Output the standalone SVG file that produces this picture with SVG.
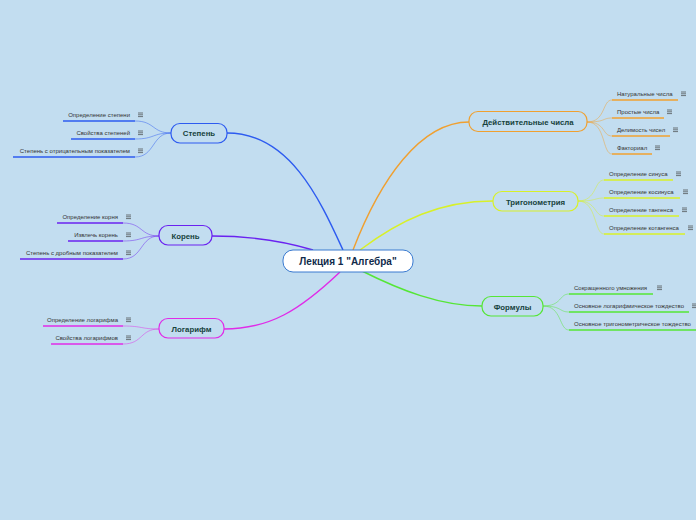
<svg xmlns="http://www.w3.org/2000/svg" width="696" height="520" viewBox="0 0 696 520">
<style>
.bg{fill:#c2ddf0}
.node{fill:#c2ddf0;stroke-width:1.2}
.nt{font-family:"Liberation Sans",Arial,sans-serif;font-weight:bold;font-size:7.8px;fill:#16423c;text-anchor:middle}
.lt{font-family:"Liberation Sans",Arial,sans-serif;font-size:6px;fill:#333}
.l{text-anchor:end}
.ul{stroke-width:1.6;fill:none}
.c{fill:none;stroke-width:0.8;stroke-opacity:0.6}
.m{fill:none;stroke-width:1.4}
.ic{stroke:#444;stroke-width:0.7}
</style>
<defs>
<g id="ham"><line class="ic" x1="0" y1="0" x2="5" y2="0"/><line class="ic" x1="0" y1="1.8" x2="5" y2="1.8"/><line class="ic" x1="0" y1="3.6" x2="5" y2="3.6"/></g>
</defs>
<rect class="bg" x="0" y="0" width="696" height="520"/>
<g id="connectors">
<path class="m" stroke="#2d5bf0" d="M343,250 C320,200 290,133 227,133"/>
<path class="m" stroke="#6a22f0" d="M313,250 C280,240 250,236 212,236"/>
<path class="m" stroke="#e02be8" d="M340,272 C300,310 270,329 224,329"/>
<path class="m" stroke="#f0a030" d="M353,250 C380,180 420,122 469,122"/>
<path class="m" stroke="#d8f028" d="M360,250 C400,220 440,201 493,201"/>
<path class="m" stroke="#55e636" d="M362,271 C400,290 440,306 482,306"/>
<path class="c" stroke="#2d5bf0" d="M171,133 C152,133 155,121 135,121 M171,133 C152,133 155,139 135,139 M171,133 C152,133 155,157 135,157"/>
<path class="c" stroke="#6a22f0" d="M159,236 C140,236 143,223 123,223 M159,236 C140,236 143,241 123,241 M159,236 C140,236 143,259 123,259"/>
<path class="c" stroke="#e02be8" d="M159,329 C140,329 143,326 123,326 M159,329 C140,329 143,344 123,344"/>
<path class="c" stroke="#f0a030" d="M587,122 C606,122 602,100 612,100 M587,122 C606,122 602,118 612,118 M587,122 C606,122 602,136 612,136 M587,122 C606,122 602,154 612,154"/>
<path class="c" stroke="#d8f028" d="M578,201 C597,201 594,180 604,180 M578,201 C597,201 594,198 604,198 M578,201 C597,201 594,216 604,216 M578,201 C597,201 594,234 604,234"/>
<path class="c" stroke="#55e636" d="M543,306 C562,306 559,294 569,294 M543,306 C562,306 559,312 569,312 M543,306 C562,306 559,330 569,330"/>
</g>
<g id="center">
<rect x="283" y="250" width="130" height="22" rx="10" fill="#fff" stroke="#3a7ad0" stroke-width="1"/>
<text class="nt" x="348" y="264.5" style="font-size:10px;fill:#0f2a4a">Лекция 1 "Алгебра"</text>
</g>
<g id="stepen">
<rect class="node" x="171" y="123.5" width="56" height="19.5" rx="9" stroke="#2d5bf0"/>
<text class="nt" x="199" y="136">Степень</text>
</g>
<g id="koren">
<rect class="node" x="159" y="225.5" width="53" height="19.5" rx="9" stroke="#6a22f0"/>
<text class="nt" x="185.5" y="238.5">Корень</text>
</g>
<g id="logarifm">
<rect class="node" x="159" y="318.5" width="65" height="19.5" rx="9" stroke="#e02be8"/>
<text class="nt" x="191.5" y="331.5">Логарифм</text>
</g>
<g id="deistv">
<rect class="node" x="469" y="111.5" width="118" height="20" rx="9" stroke="#f0a030"/>
<text class="nt" x="528" y="124.5">Действительные числа</text>
</g>
<g id="trig">
<rect class="node" x="493" y="191.5" width="85" height="19.5" rx="9" stroke="#d8f028"/>
<text class="nt" x="535.5" y="204.5">Тригонометрия</text>
</g>
<g id="formuly">
<rect class="node" x="482" y="296.5" width="61" height="19.5" rx="9" stroke="#55e636"/>
<text class="nt" x="512.5" y="309.5">Формулы</text>
</g>
<g id="stepen-leaves">
<text class="lt l" x="130" y="117">Определение степени</text><use href="#ham" x="138" y="113"/><line class="ul" stroke="#2d5bf0" x1="63" y1="121" x2="135" y2="121"/>
<text class="lt l" x="130" y="135">Свойства степеней</text><use href="#ham" x="138" y="131"/><line class="ul" stroke="#2d5bf0" x1="71" y1="139" x2="135" y2="139"/>
<text class="lt l" x="130" y="153">Степень с отрицательным показателем</text><use href="#ham" x="138" y="149"/><line class="ul" stroke="#2d5bf0" x1="13" y1="157" x2="135" y2="157"/>
</g>
<g id="koren-leaves">
<text class="lt l" x="118" y="219">Определение корня</text><use href="#ham" x="126" y="215"/><line class="ul" stroke="#6a22f0" x1="57" y1="223" x2="123" y2="223"/>
<text class="lt l" x="118" y="237">Извлечь корень</text><use href="#ham" x="126" y="233"/><line class="ul" stroke="#6a22f0" x1="68" y1="241" x2="123" y2="241"/>
<text class="lt l" x="118" y="255">Степень с дробным показателем</text><use href="#ham" x="126" y="251"/><line class="ul" stroke="#6a22f0" x1="20" y1="259" x2="123" y2="259"/>
</g>
<g id="logarifm-leaves">
<text class="lt l" x="118" y="322">Определение логарифма</text><use href="#ham" x="126" y="318"/><line class="ul" stroke="#e02be8" x1="43" y1="326" x2="123" y2="326"/>
<text class="lt l" x="118" y="340">Свойства логарифмов</text><use href="#ham" x="126" y="336"/><line class="ul" stroke="#e02be8" x1="51" y1="344" x2="123" y2="344"/>
</g>
<g id="deistv-leaves">
<text class="lt" x="617" y="96">Натуральные числа</text><use href="#ham" x="681" y="92"/><line class="ul" stroke="#f0a030" x1="612" y1="100" x2="678" y2="100"/>
<text class="lt" x="617" y="114">Простые числа</text><use href="#ham" x="667" y="110"/><line class="ul" stroke="#f0a030" x1="612" y1="118" x2="664" y2="118"/>
<text class="lt" x="617" y="132">Делимость чисел</text><use href="#ham" x="673" y="128"/><line class="ul" stroke="#f0a030" x1="612" y1="136" x2="670" y2="136"/>
<text class="lt" x="617" y="150">Факториал</text><use href="#ham" x="655" y="146"/><line class="ul" stroke="#f0a030" x1="612" y1="154" x2="652" y2="154"/>
</g>
<g id="trig-leaves">
<text class="lt" x="609" y="176">Определение синуса</text><use href="#ham" x="676" y="172"/><line class="ul" stroke="#d8f028" x1="604" y1="180" x2="673" y2="180"/>
<text class="lt" x="609" y="194">Определение косинуса</text><use href="#ham" x="683" y="190"/><line class="ul" stroke="#d8f028" x1="604" y1="198" x2="680" y2="198"/>
<text class="lt" x="609" y="212">Определение тангенса</text><use href="#ham" x="682" y="208"/><line class="ul" stroke="#d8f028" x1="604" y1="216" x2="679" y2="216"/>
<text class="lt" x="609" y="230">Определение котангенса</text><use href="#ham" x="688" y="226"/><line class="ul" stroke="#d8f028" x1="604" y1="234" x2="685" y2="234"/>
</g>
<g id="formuly-leaves">
<text class="lt" x="574" y="290">Сокращенного умножения</text><use href="#ham" x="657" y="286"/><line class="ul" stroke="#55e636" x1="569" y1="294" x2="653" y2="294"/>
<text class="lt" x="574" y="308">Основное логарифмическое тождество</text><use href="#ham" x="692" y="304"/><line class="ul" stroke="#55e636" x1="569" y1="312" x2="689" y2="312"/>
<text class="lt" x="574" y="326">Основное тригонометрическое тождество</text><line class="ul" stroke="#55e636" x1="569" y1="330" x2="696" y2="330"/>
</g>
</svg>
